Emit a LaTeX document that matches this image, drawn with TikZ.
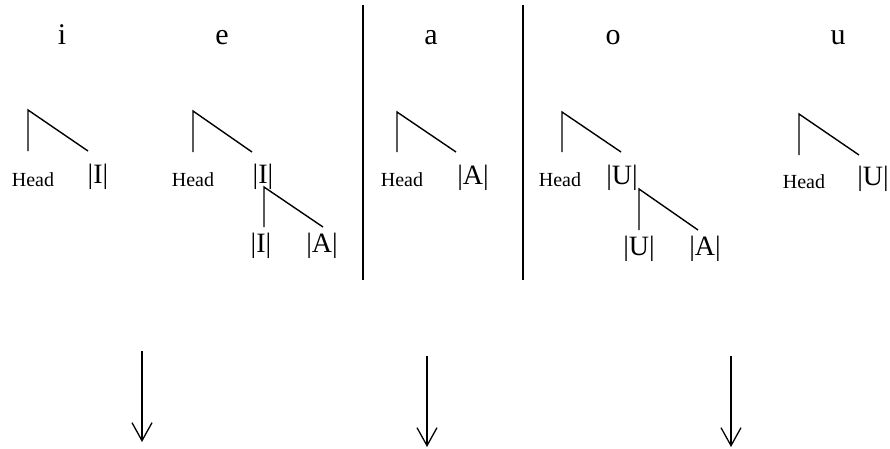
\documentclass[tikz,border=0pt]{standalone}
\usepackage{fontspec}
\setmainfont{Liberation Serif}
\usetikzlibrary{arrows.meta}
\begin{document}
\begin{tikzpicture}[x=1pt,y=-1pt,
  ln/.style={line width=1.4pt},
  vowel/.style={anchor=base,inner sep=0pt,font=\fontsize{30}{34}\selectfont},
  headlbl/.style={anchor=base,inner sep=0pt,font=\fontsize{20}{24}\selectfont},
  elem/.style={anchor=base,inner sep=0pt,font=\fontsize{28}{32}\selectfont},
  downarrow/.style={line width=1.3pt,-{Straight Barb[length=18pt,width=20pt]}}]
\useasboundingbox (0,0) rectangle (890,448);
% vowel labels
\node[vowel] (vi) at (62,44) {i};
\node[vowel] (ve) at (222,44) {e};
\node[vowel] (va) at (431,44) {a};
\node[vowel] (vo) at (613,44) {o};
\node[vowel] (vu) at (838,44) {u};
% separators
\coordinate (s1t) at (363,5); \coordinate (s1b) at (363,280);
\coordinate (s2t) at (523,5); \coordinate (s2b) at (523,280);
\draw[ln] (s1t) -- (s1b);
\draw[ln] (s2t) -- (s2b);
% tree i
\coordinate (t1) at (28,110); \coordinate (t1h) at (28,151); \coordinate (t1d) at (88,151);
\draw[ln] (t1h) -- (t1) -- (t1d);
\node[headlbl] (h1) at (33,186) {Head};
\node[elem] (e1) at (98,183) {|I|};
% tree e
\coordinate (t2) at (193,111); \coordinate (t2h) at (193,152); \coordinate (t2d) at (252,152);
\draw[ln] (t2h) -- (t2) -- (t2d);
\node[headlbl] (h2) at (193,186) {Head};
\node[elem] (e2) at (263,183) {|I|};
\coordinate (t2s) at (264,187); \coordinate (t2sh) at (264,227); \coordinate (t2sd) at (323,227);
\draw[ln] (t2sh) -- (t2s) -- (t2sd);
\node[elem] (e2a) at (261,252) {|I|};
\node[elem] (e2b) at (322,252) {|A|};
% tree a
\coordinate (t3) at (397,112); \coordinate (t3h) at (397,152); \coordinate (t3d) at (456,152);
\draw[ln] (t3h) -- (t3) -- (t3d);
\node[headlbl] (h3) at (402,186) {Head};
\node[elem] (e3) at (473,184) {|A|};
% tree o
\coordinate (t4) at (562,112); \coordinate (t4h) at (562,152); \coordinate (t4d) at (621,152);
\draw[ln] (t4h) -- (t4) -- (t4d);
\node[headlbl] (h4) at (560,186) {Head};
\node[elem] (e4) at (622,184) {|U|};
\coordinate (t4s) at (639,189); \coordinate (t4sh) at (639,230); \coordinate (t4sd) at (698,230);
\draw[ln] (t4sh) -- (t4s) -- (t4sd);
\node[elem] (e4a) at (639,255) {|U|};
\node[elem] (e4b) at (705,255) {|A|};
% tree u
\coordinate (t5) at (799,114); \coordinate (t5h) at (799,155); \coordinate (t5d) at (859,155);
\draw[ln] (t5h) -- (t5) -- (t5d);
\node[headlbl] (h5) at (804,188) {Head};
\node[elem] (e5) at (873,185) {|U|};
% arrows
\coordinate (a1s) at (142,351); \coordinate (a1e) at (142,442);
\coordinate (a2s) at (427,356); \coordinate (a2e) at (427,447);
\coordinate (a3s) at (731,356); \coordinate (a3e) at (731,447);
\draw[downarrow] (a1s) -- (a1e);
\draw[downarrow] (a2s) -- (a2e);
\draw[downarrow] (a3s) -- (a3e);
\end{tikzpicture}
\end{document}
